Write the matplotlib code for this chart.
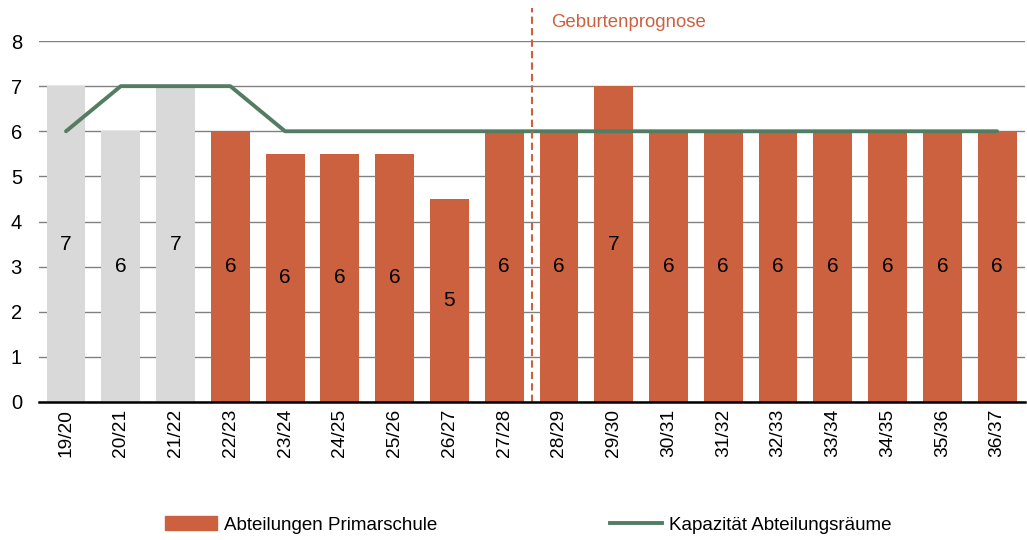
import numpy as np
import matplotlib
matplotlib.use('Agg')
import matplotlib.pyplot as plt
from matplotlib.patches import Patch
from matplotlib.lines import Line2D

plt.rcParams['font.family'] = ['Liberation Sans', 'DejaVu Sans']

years = ['19/20', '20/21', '21/22', '22/23', '23/24', '24/25', '25/26', '26/27',
         '27/28', '28/29', '29/30', '30/31', '31/32', '32/33', '33/34', '34/35',
         '35/36', '36/37']
abteilungen = [7, 6, 7, 6, 5.5, 5.5, 5.5, 4.5, 6, 6, 7, 6, 6, 6, 6, 6, 6, 6]
kapazitaet = [6, 7, 7, 7, 6, 6, 6, 6, 6, 6, 6, 6, 6, 6, 6, 6, 6, 6]
n_past = 3  # first years shown grey

ORANGE = '#CC6140'
GREY = '#D9D9D9'
GREEN = '#537D63'

fig = plt.figure(figsize=(10.27, 5.4), dpi=100)
ax = fig.add_axes([0.0376, 0.2556, 0.96, 0.6684])

x = np.arange(len(years))
colors = [GREY if i < n_past else ORANGE for i in x]
ax.bar(x, abteilungen, width=0.71, color=colors, zorder=2)
for xi, v in zip(x, abteilungen):
    ax.text(xi, v / 2, str(int(np.floor(v + 0.5))), ha='center', va='center',
            fontsize=15, color='black', zorder=3)

ax.plot(x, kapazitaet, color=GREEN, lw=2.8, zorder=4, solid_capstyle='round')

# forecast marker
ax.plot([8.5, 8.5], [0, 8.73], color=ORANGE, lw=1.5, ls=(0, (3.5, 2)),
        clip_on=False, zorder=5)
ax.text(8.86, 8.42, 'Geburtenprognose', color=ORANGE, fontsize=13.4,
        va='center', ha='left')

ax.set_xlim(-0.5, len(years) - 0.5)
ax.set_ylim(0, 8)
ax.set_yticks(range(0, 9))
ax.set_xticks(x)
ax.set_xticklabels(years, rotation=90)
ax.tick_params(axis='x', length=0, labelsize=13.8, pad=5)
ax.tick_params(axis='y', length=0, labelsize=14.5, pad=12)
ax.yaxis.grid(True, color='#808080', lw=1, zorder=0)
ax.set_axisbelow(True)
for s in ['top', 'right', 'left']:
    ax.spines[s].set_visible(False)
ax.spines['bottom'].set_color('black')
ax.spines['bottom'].set_linewidth(1.8)
ax.spines['bottom'].set_zorder(6)

handles = [Patch(color=ORANGE), Line2D([0], [0], color=GREEN, lw=2.8)]
fig.legend(handles, ['Abteilungen Primarschule', 'Kapazität Abteilungsräume'],
           loc='center', bbox_to_anchor=(528 / 1027, 15 / 540), ncol=2,
           frameon=False, fontsize=13.5, handlelength=2.8, handleheight=0.7,
           handletextpad=0.35, columnspacing=9.2)

fig.savefig('out.png', dpi=100)
